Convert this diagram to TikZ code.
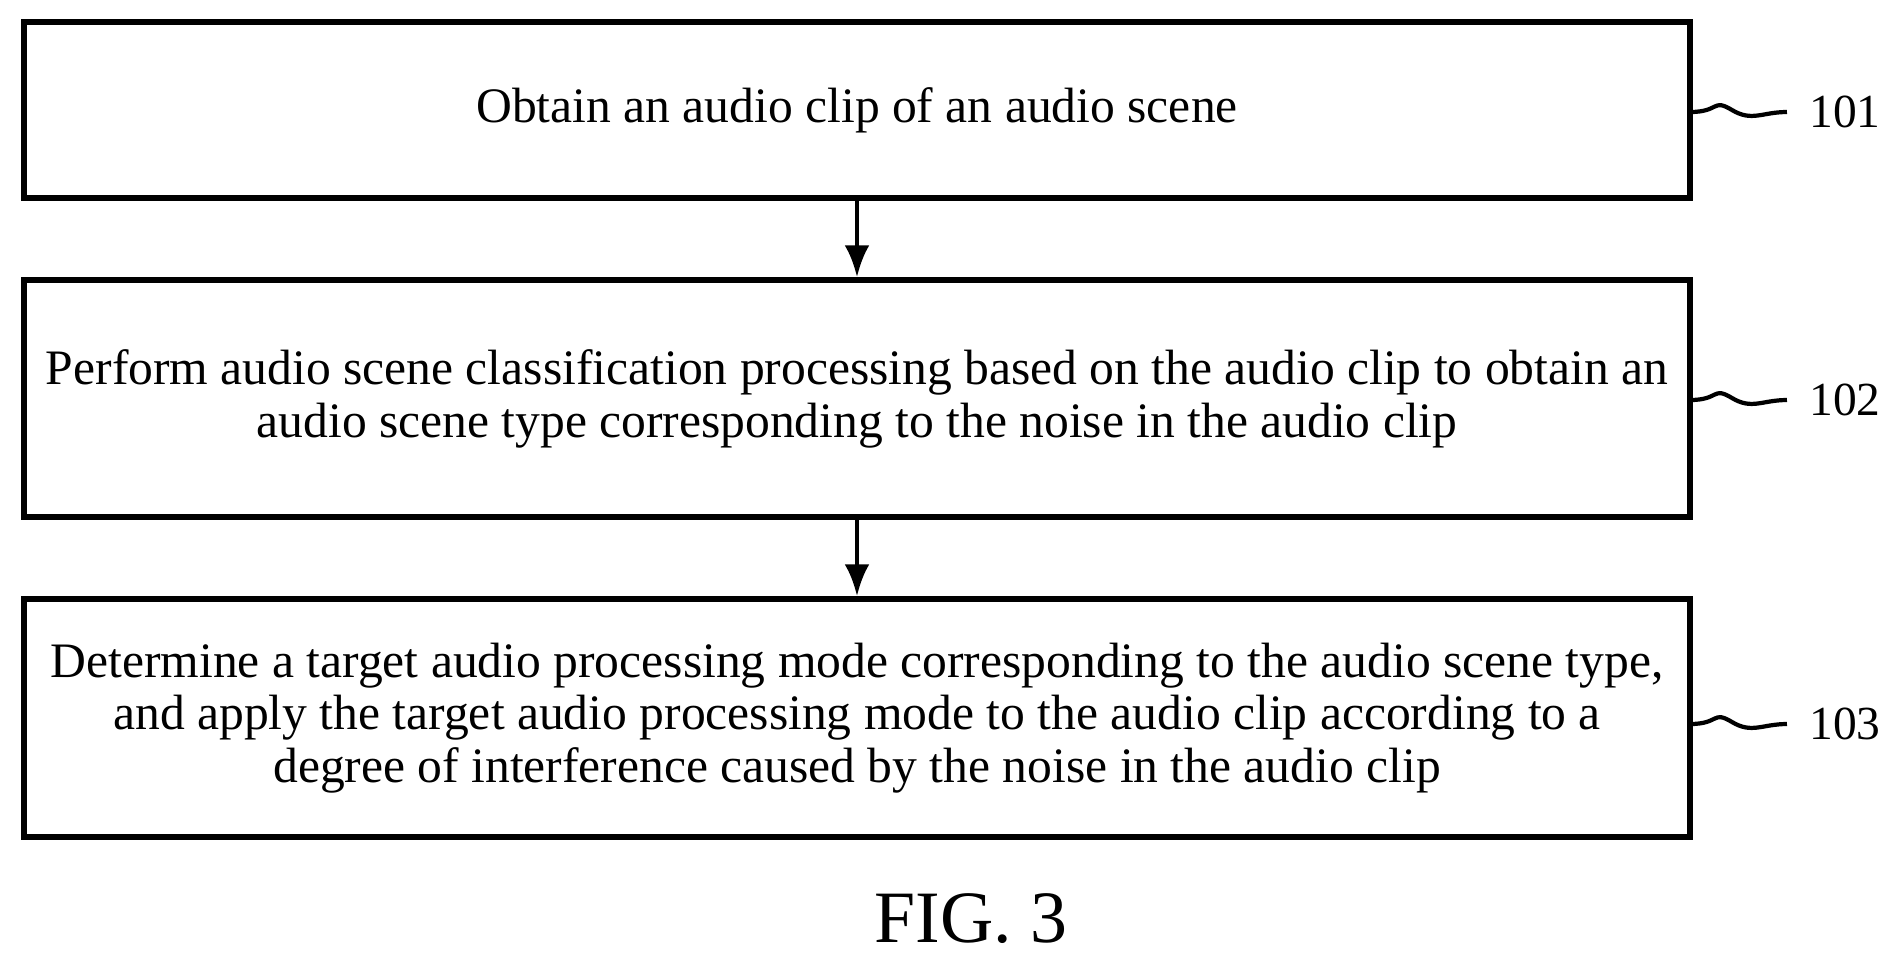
\documentclass[tikz,border=0pt]{standalone}
\usepackage{fontspec}
\setmainfont{Liberation Serif}
\usetikzlibrary{arrows.meta,calc}
\begin{document}
\begin{tikzpicture}[x=0.01cm,y=-0.01cm,
  box/.style={draw,line width=1.6pt,minimum width=16.65cm,align=center,font=\fontsize{14.1}{15}\selectfont,inner sep=0},
  arr/.style={-{Latex[length=9pt,width=7pt]},line width=1.3pt},
  sq/.style={line width=1.2pt},
  lab/.style={font=\fontsize{13.5}{15}\selectfont}]
\useasboundingbox (0,0) rectangle (1893,956);
\node[box,minimum height=1.76cm] (b1) at (857,110) {Obtain an audio clip of an audio scene};
\node[box,minimum height=2.37cm] (b2) at (857,398.5) {Perform audio scene classification processing based on the audio clip to obtain an\\audio scene type corresponding to the noise in the audio clip};
\node[box,minimum height=2.38cm] (b3) at (857,718) {Determine a target audio processing mode corresponding to the audio scene type,\\and apply the target audio processing mode to the audio clip according to a\\degree of interference caused by the noise in the audio clip};
\draw[arr] (b1) -- (b2);
\draw[arr] (b2) -- (b3);
\node[lab] (l1) at (1845,112) {101};
\node[lab] (l2) at (1845,400) {102};
\node[lab] (l3) at (1845,724) {103};
\coordinate (s1) at (1690,112);
\coordinate (s2) at (1690,400);
\coordinate (s3) at (1690,724);
\foreach \s/\l in {s1/l1,s2/l2,s3/l3}{
  \draw[sq] (\s) .. controls ++(30,0) and ++(-20,-12) .. ++(42,-2) .. controls ++(20,12) and ++(-25,0) .. ($(\l.west)+(-10,0)$);
}
\node[font=\fontsize{21}{24}\selectfont] (fig) at (971,919) {FIG. 3};
\end{tikzpicture}
\end{document}
